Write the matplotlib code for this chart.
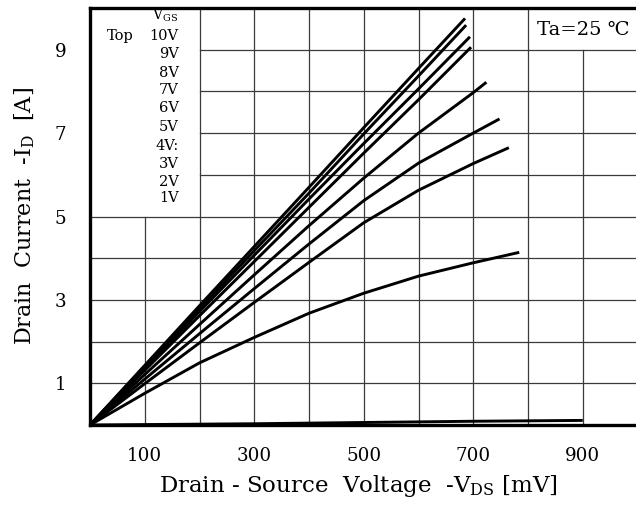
"""Drain current vs drain-source voltage, output characteristic."""

import matplotlib.pyplot as plt
import matplotlib as mpl

mpl.rcParams.update({
    "font.family": ["DejaVu Serif", "DejaVu Sans"],
    "mathtext.fontset": "custom",
    "mathtext.rm": "DejaVu Serif",
    "figure.dpi": 100,
})

# Vds [mV] / -Id [A]
vds_hi = [0, 100, 200, 300, 400, 500, 600]
id_10v = [0, 1.43, 2.86, 4.28, 5.70, 7.13, 8.55, 9.75]
id_9v = [0, 1.40, 2.79, 4.18, 5.56, 6.98, 8.37, 9.59]
id_8v = [0, 1.36, 2.72, 4.07, 5.42, 6.75, 8.06, 9.31]
id_7v = [0, 1.31, 2.62, 3.92, 5.22, 6.52, 7.80, 9.06]
end_hi = [685, 687, 694, 696]

vds_mid = [0, 100, 200, 300, 400, 500, 600, 700]
id_6v = [0, 1.21, 2.41, 3.60, 4.78, 5.92, 7.00, 7.97, 8.22]
id_5v = [0, 1.10, 2.19, 3.27, 4.34, 5.38, 6.28, 7.00, 7.34]
id_4v = [0, 0.99, 1.97, 2.94, 3.90, 4.85, 5.63, 6.27, 6.65]
id_3v = [0, 0.76, 1.49, 2.10, 2.68, 3.16, 3.57, 3.89, 4.14]
end_mid = [724, 748, 765, 784]

vds_low = [0, 300, 500, 700, 900]
id_low = [0, 0.03, 0.06, 0.09, 0.11]

legend_labels = ["10V", "9V", "8V", "7V", "6V", "5V", "4V:", "3V", "2V", "1V"]
legend_y = [9.33, 8.90, 8.44, 8.03, 7.60, 7.15, 6.69, 6.26, 5.83, 5.44]

x_ticks = [100, 300, 500, 700, 900]
y_ticks = [1, 3, 5, 7, 9]

W, H = 636, 507
fig = plt.figure(figsize=(W / 100, H / 100))
ax = fig.add_axes([90 / W, 82 / H, 547.5 / W, 417 / H])
ax.set_xlim(0, 1000)
ax.set_ylim(0, 10)

# grid, with blank corners for the legend and the Ta box
gkw = dict(color="#3a3a3a", lw=0.9, zorder=1)
for x in range(100, 1000, 100):
    top = 5 if x == 100 else (9 if x == 900 else 10)
    ax.plot([x, x], [0, top], **gkw)
for y in range(1, 10):
    ax.plot([0 if y <= 5 else 200, 1000], [y, y], **gkw)

curves = [
    (vds_hi + [end_hi[0]], id_10v),
    (vds_hi + [end_hi[1]], id_9v),
    (vds_hi + [end_hi[2]], id_8v),
    (vds_hi + [end_hi[3]], id_7v),
    (vds_mid + [end_mid[0]], id_6v),
    (vds_mid + [end_mid[1]], id_5v),
    (vds_mid + [end_mid[2]], id_4v),
    (vds_mid + [end_mid[3]], id_3v),
    (vds_low, id_low),
]
for xs, ys in curves:
    ax.plot(xs, ys, color="black", lw=2.1, solid_capstyle="butt", zorder=3,
            clip_on=False)

for side in ["left", "bottom", "top"]:
    ax.spines[side].set_linewidth(2.4)
ax.spines["right"].set_visible(False)

ax.set_xticks(x_ticks)
ax.set_yticks(y_ticks)
ax.tick_params(length=0, labelsize=13.2)
ax.tick_params(axis="x", pad=16)
ax.tick_params(axis="y", pad=17)

ax.set_xlabel(r"Drain - Source  Voltage  -$\mathregular{V_{DS}}$ [mV]",
              fontsize=16.5, labelpad=7)
ax.xaxis.set_label_coords(0.49, -0.115)
ax.set_ylabel(r"Drain  Current  -$\mathregular{I_D}$  [A]", fontsize=16,
              labelpad=13)

# legend block
ax.text(137, 9.83, r"$\mathregular{V_{GS}}$", fontsize=10, ha="center",
        va="center")
ax.text(31, legend_y[0], "Top", fontsize=10.5, ha="left", va="center")
for lab, y in zip(legend_labels, legend_y):
    ax.text(162, y, lab, fontsize=10.5, ha="right", va="center")

ax.text(901, 9.47, "Ta=25 ℃", fontsize=14, ha="center", va="center")

fig.savefig("out.png", dpi=100)
